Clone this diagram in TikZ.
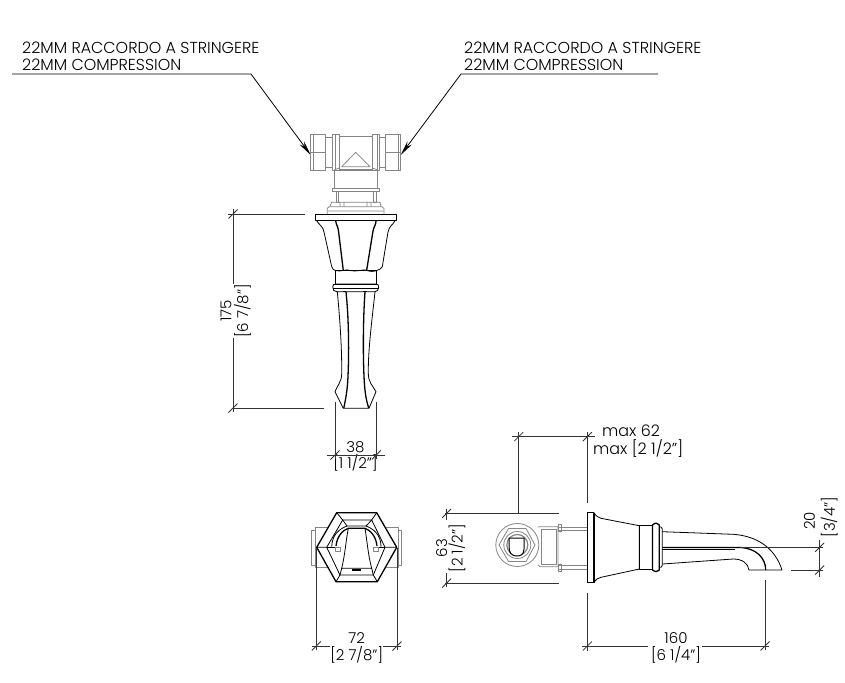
\documentclass[tikz,border=0pt]{standalone}
\usepackage{fontspec}
\setmainfont{Poppins Light}
\usetikzlibrary{positioning,arrows.meta}

\begin{document}
\begin{tikzpicture}[
    x=1pt,y=-1pt,
    >=Stealth,
    part/.style={draw=black,line width=0.8pt,line join=round},
    heavy/.style={draw=black,line width=1.3pt,line join=round},
    fitting/.style={draw=black!48,line width=0.8pt,line join=round},
    dim/.style={draw=black!80,line width=0.8pt},
    leader/.style={draw=black,line width=0.8pt},
    tag/.style={font=\fontsize{15.9}{18}\selectfont,anchor=base west,inner sep=0pt},
    size/.style={font=\fontsize{15}{17}\selectfont,inner sep=0pt},
  ]
  \useasboundingbox (0,0) rectangle (845,682);

  % Leaders
  \node[tag] (tagLa) at (22,53.5) {22MM RACCORDO A STRINGERE};
  \node[tag] (tagLb) at (22,70.5) {22MM COMPRESSION};
  \node[tag] (tagRa) at (464,53.5) {22MM RACCORDO A STRINGERE};
  \node[tag] (tagRb) at (464,70.5) {22MM COMPRESSION};
  \coordinate (leadLs) at (12,74);
  \coordinate (leadLk) at (251,74);
  \coordinate (leadLe) at (310.7,155);
  \coordinate (leadRs) at (658,74);
  \coordinate (leadRk) at (461,74);
  \coordinate (leadRe) at (400.7,155);
  \draw[leader,-{Stealth[length=15pt,width=5.5pt]}] (leadLs) -- (leadLk) -- (leadLe);
  \draw[leader,-{Stealth[length=15pt,width=5.5pt]}] (leadRs) -- (leadRk) -- (leadRe);

  % T fitting
  \draw[fitting] (310.7,134) rectangle (325.7,170) (313.5,134) -- (313.5,170) (310.7,152) -- (325.7,152);
  \draw[fitting] (325.7,137) rectangle (332.7,167);
  \draw[fitting] (332.7,134) rectangle (339,170) (335,134) -- (335,170);
  \draw[fitting] (339,136.7) rectangle (372.3,169);
  \draw[fitting] (372.3,134) rectangle (379,170) (377,134) -- (377,170);
  \draw[fitting] (379,137) rectangle (385,167);
  \draw[fitting] (385,134) rectangle (400.7,170) (398,134) -- (398,170) (385,152) -- (400.7,152);
  \draw[fitting] (341.7,166.7) -- (355.7,152.3) -- (370,166.7) -- cycle;
  \draw[fitting] (334.3,170) -- (339,168) (377.7,170) -- (372.3,168);
  \draw[fitting] (334.3,170) rectangle (377.7,188.3);
  \draw[fitting,line width=1.1pt] (332.3,188.3) rectangle (379.3,191.7);
  \draw[fitting] (336,191.7) rectangle (338.5,202.3) (373.5,191.7) rectangle (376,202.3);
  \draw[fitting] (330,206.7) -- (331.5,202.3) -- (380,202.3) -- (381,206.7)
    (340,202.3) -- (340,206.7) (344,202.3) -- (344,206.7) (367,202.3) -- (367,206.7) (371,202.3) -- (371,206.7);
  \draw[fitting] (327.3,214) -- (327.3,208.5) -- (329,206.7) -- (382,206.7) -- (384,208.5) -- (384,214) (328,211) -- (383,211);

  % Front view
  \draw[part] (315.3,214) rectangle (396.3,220.7);
  \draw[heavy] (316,220.7) -- (395.5,220.7);
  \draw[part] (316.7,220.7) .. controls (319,225) and (323,226) .. (324,232) -- (331.7,266.7)
    .. controls (332,269) and (334,270) .. (335.7,270.7)
    .. controls (342,272) and (346,268.5) .. (350,270.5)
    .. controls (356,272) and (362,269.5) .. (366,270)
    .. controls (370,272) and (374,271.5) .. (376,270.7)
    .. controls (379,270) and (381,269) .. (382.3,266.7) -- (388,232)
    .. controls (389,226) and (393,225) .. (395,220.7);
  \draw[heavy] (335.7,220.7) .. controls (336,225) and (338,226) .. (338.5,231) -- (343.3,270.5);
  \draw[heavy] (376,220.7) .. controls (376,225) and (374,226) .. (373,231) -- (366.7,270);
  \draw[part] (335.7,270.7) rectangle (376,284);
  \draw[part] (332.7,287) .. controls (332.7,284.5) and (334,284) .. (336,284) -- (376,284)
    .. controls (378,284) and (378.7,285) .. (378.7,287) .. controls (378.7,290) and (377,291.7) .. (375,291.7)
    -- (337,291.7) .. controls (334,291.7) and (332.7,290) .. (332.7,287);
  \draw[part] (333,288) -- (378.5,288);
  \draw[part] (337.3,291.7) .. controls (340,320) and (342,350) .. (341.7,374)
    .. controls (341.5,382) and (337,386) .. (335,391.7) -- (343.3,408.3) -- (369,408.3)
    -- (376,391.7) .. controls (373,386) and (368,382) .. (368.3,373)
    .. controls (368,350) and (372,320) .. (375,291.7);
  \draw[heavy] (346,291.7) .. controls (349,320) and (349,355) .. (348,376) .. controls (347.5,390) and (345.5,400) .. (343.8,408);
  \draw[heavy] (365,291.7) .. controls (363,320) and (363,355) .. (364,376) .. controls (364.5,390) and (366,400) .. (368.7,408);
  \draw[part] (343,291.7) -- (346,291.7) (363,291.7) -- (367,291.7);

  % Dimension 175
  \node[size,rotate=90] (lenA) at (226,311) {175};
  \node[size,rotate=90] (lenB) at (242.5,311) {[6 7/8"]};
  \draw[dim] (228,214) -- (305,214);
  \draw[dim] (233,408) -- (324,408);
  \draw[dim] (233,209) -- (233,284) (233,338) -- (233,412);

  % Dimension 38
  \node[size] (wideA) at (355.5,446.7) {38};
  \node[size] (wideB) at (355.5,463) {[1 1/2"]};
  \draw[dim] (335,402) -- (335,459) (376.3,402) -- (376.3,459);
  \draw[dim] (327,455) -- (385,455);

  % Top view
  \draw[fitting] (311.7,530) rectangle (315,565) (398,530) rectangle (401.7,565);
  \draw[fitting] (315,527.3) rectangle (398,567.3);
  \fill[white] (336.7,512.7) -- (376.7,512.7) -- (396.7,547.3) -- (377.3,581.7) -- (336,581.7) -- (316.7,547.3) -- cycle;
  \draw[heavy] (336.7,512.7) -- (376.7,512.7) -- (396.7,547.3) -- (377.3,581.7) -- (336,581.7) -- (316.7,547.3) -- cycle;
  \draw[part] (342.7,520) -- (371.7,520) -- (385,547.3) -- (373.3,575) -- (340,575) -- (326.7,547.3) -- cycle;
  \draw[part] (336.7,512.7) -- (342.7,520) (376.7,512.7) -- (371.7,520) (396.7,547.3) -- (385,547.3)
    (377.3,581.7) -- (373.3,575) (336,581.7) -- (340,575) (316.7,547.3) -- (326.7,547.3);
  \draw[part] (342.7,520) -- (347,526) -- (366,526) -- (371.7,520);
  \draw[part] (331.7,546.7) .. controls (332,535) and (339,529) .. (347,526);
  \draw[part] (381,546.7) .. controls (381,535) and (374,529) .. (366,526);
  \draw[heavy] (336,546) .. controls (337,536) and (343,530) .. (348.3,528.3) -- (365,528.3)
    .. controls (370,530) and (376,536) .. (377,546);
  \draw[part] (348.3,528.3) .. controls (346,540) and (345,555) .. (341.7,568.3)
    (365,528.3) .. controls (367,540) and (368,555) .. (371.7,568.3);
  \draw[part] (341.7,568.3) -- (340,575) (341.7,568.3) -- (371.7,568.3) (371.7,568.3) -- (373.3,575);
  \draw[heavy] (352,570) -- (361,570);
  \draw[part] (326.7,547.3) -- (340,547.3) (373,547.3) -- (385,547.3);
  \draw[fitting] (335,547.3) rectangle (340,551) (373,547.3) rectangle (378,551);

  % Dimension 72
  \node[size] (spanA) at (356.7,638) {72};
  \node[size] (spanB) at (356.7,655) {[2 7/8"]};
  \draw[dim] (316.3,548) -- (316.3,650) (397,548) -- (397,650);
  \draw[dim] (311.7,646) -- (330,646) (382.7,646) -- (401,646);

  % Side view, valve body
  \draw[fitting] (517.3,545) circle (21.5);
  \draw[fitting] (535,545) -- (526,561.5) -- (508.5,561.5) -- (499,545) -- (508.5,528.5) -- (526,528.5) -- cycle;
  \draw[fitting] (517.3,545) circle (13.5);
  \draw[fitting,line width=1.2pt] (517.3,545) circle (10.5);
  \draw[part,line width=1pt,fill=white] (509,538) -- (524,538) -- (524,549) .. controls (524,555) and (520,556) .. (516.5,556) .. controls (512,556) and (509,553) .. (509,547) -- cycle;
  \draw[fitting] (538,527) -- (540,526.7) -- (558,526.7) -- (558,566.7) -- (540,566.7) -- (538,565);
  \draw[fitting] (541,529) rectangle (556,564.5);
  \draw[fitting] (558,527) rectangle (587.3,530) (558,565.7) rectangle (587.3,569);
  \draw[fitting] (558,524.5) rectangle (561,531.5) (558,564.5) rectangle (561,571);

  % Side view, spout
  \draw[part] (587.3,512.7) rectangle (593.5,582.7);
  \draw[heavy] (594,512.7) -- (594,582.7);
  \draw[part] (594,512.7) .. controls (596,516) and (598,517.5) .. (601,518.3) -- (639.3,525.7)
    -- (639.3,569) -- (601,577.3) .. controls (598,578) and (596,579) .. (594,582.7);
  \draw[part] (639.3,525.7) rectangle (652.3,569);
  \draw[heavy] (652.5,525) .. controls (655,522.5) and (658,522.5) .. (659.3,525) -- (659.3,570)
    .. controls (658,572) and (655,572) .. (652.5,570) -- cycle;
  \draw[part] (659.3,527) -- (661,527) -- (662.3,529) -- (662.3,565.5) -- (661,567.3) -- (659.3,567.3);
  \draw[part] (662.3,531.7) -- (733.3,534.3) .. controls (757,536) and (775,548) .. (782,570) -- (749,570)
    .. controls (748,563) and (742,559) .. (733.3,559) -- (662.3,564);
  \draw[heavy] (662.3,547.5) -- (740,547.5) .. controls (756,548) and (765.7,558) .. (765.7,570);
  \draw[part] (662.3,549) -- (735,549);

  % Dimension 62
  \node[tag] (reachA) at (602,436) {max 62};
  \node[tag] (reachB) at (593,454.5) {max [2 1/2"]};
  \draw[dim] (511.7,436.7) -- (595,436.7);
  \draw[dim] (518.7,432) -- (518.7,513.3);
  \draw[dim] (587.3,432) -- (587.3,502.7);

  % Dimension 63
  \node[size,rotate=90] (highA) at (441.7,548) {63};
  \node[size,rotate=90] (highB) at (457,548) {[2 1/2"]};
  \draw[dim] (445,513.3) -- (559,513.3) (445,583) -- (559,583);
  \draw[dim] (446.7,509) -- (446.7,520) (446.7,573) -- (446.7,587);

  % Dimension 160
  \node[size] (longA) at (676,638) {160};
  \node[size] (longB) at (676,655) {[6 1/4"]};
  \draw[dim] (587.3,593) -- (587.3,600) (587.3,600) -- (587.3,651);
  \draw[dim] (765,580) -- (765,650);
  \draw[dim] (582,646) -- (648,646) (701.7,646) -- (769,646);

  % Dimension 20
  \node[size,rotate=90] (dropA) at (809.3,520.7) {20};
  \node[size,rotate=90] (dropB) at (829.3,517) {[3/4"]};
  \draw[dim] (740,547.3) -- (823,547.3) (791,570) -- (823,570);
  \draw[dim] (819.7,540) -- (819.7,577.3);

  % Ticks
  \foreach \tx/\ty in {233/214,233/408,335/455,376.3/455,316.3/646,397/646,
      518.7/436.7,587.3/436.7,446.7/513.3,446.7/583,587.3/646,765/646,819.7/547.3,819.7/570}
    \draw[dim] (\tx-4.5,\ty+4.5) -- (\tx+4.5,\ty-4.5);
\end{tikzpicture}
\end{document}
